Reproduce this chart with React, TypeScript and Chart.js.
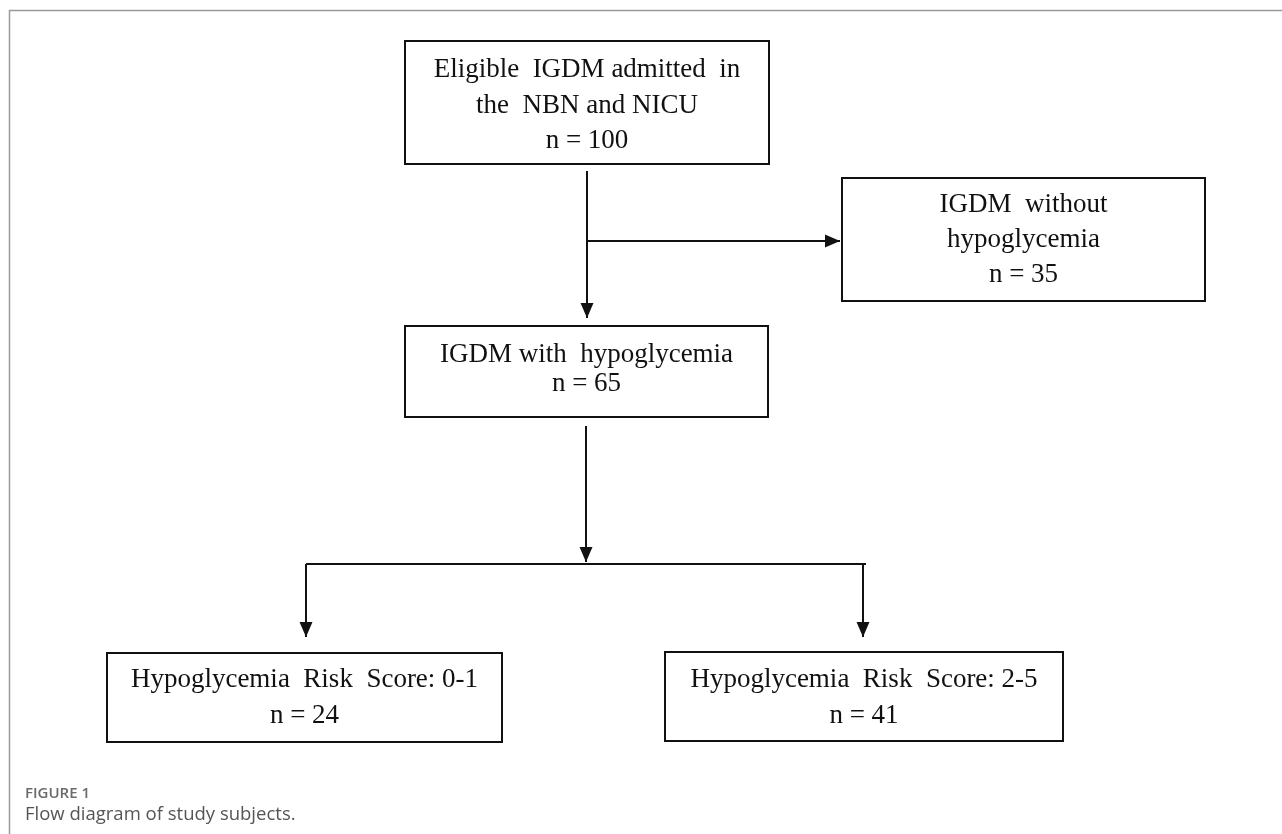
import React, { useEffect, useRef } from "react";
import { Chart, registerables } from "chart.js";

Chart.register(...registerables);

// ---- values ----
const nodeLabels: string[][] = [
  ["Eligible  IGDM admitted  in", "the  NBN and NICU"],
  ["IGDM  without", "hypoglycemia"],
  ["IGDM with  hypoglycemia"],
  ["Hypoglycemia  Risk  Score: 0-1"],
  ["Hypoglycemia  Risk  Score: 2-5"],
];
const nodeCounts: number[] = [100, 35, 65, 24, 41];
const captionTitle = "FIGURE 1";
const captionText = "Flow diagram of study subjects.";

// ---- layout (chart units) ----
// box extents: [xMin, xMax, yMin, yMax]
const nodeBoxes: number[][] = [
  [405, 769, 41, 164],
  [842, 1205, 178, 301],
  [405, 768, 326, 417],
  [107, 502, 653, 742],
  [665, 1063, 652, 741],
];
// text baselines for each line of each box
const nodeBaselines: number[][] = [
  [77, 113, 148],
  [212, 247, 282],
  [362, 391],
  [687, 723],
  [687, 723],
];
// connectors: polyline points [x, y]..., and whether end has an arrowhead
const edgePaths: number[][][] = [
  [[587, 171], [587, 318]],
  [[587, 241], [840, 241]],
  [[586, 426], [586, 562]],
  [[306, 564], [866, 564]],
  [[306, 564], [306, 637]],
  [[863, 564], [863, 637]],
];
const edgeArrow: boolean[] = [true, true, true, false, true, true];

const flowPlugin = {
  id: "flowDiagram",
  afterDatasetsDraw(chart: any) {
    const ctx: CanvasRenderingContext2D = chart.ctx;
    const xs = chart.scales.x;
    const ys = chart.scales.y;
    const X = (v: number) => xs.getPixelForValue(v);
    const Y = (v: number) => ys.getPixelForValue(v);
    ctx.save();

    // figure frame (left and top rules)
    ctx.strokeStyle = "#9a9a9a";
    ctx.lineWidth = 1.5;
    ctx.beginPath();
    ctx.moveTo(X(9.5), Y(834));
    ctx.lineTo(X(9.5), Y(10.5));
    ctx.lineTo(X(1282), Y(10.5));
    ctx.stroke();

    // boxes + text
    ctx.strokeStyle = "#111";
    ctx.lineWidth = 2;
    ctx.fillStyle = "#111";
    ctx.font = "27px 'Liberation Serif', 'Times New Roman', serif";
    ctx.textAlign = "center";
    ctx.textBaseline = "alphabetic";
    nodeBoxes.forEach((b, i) => {
      const x0 = X(b[0]);
      const x1 = X(b[1]);
      const y0 = Y(b[2]);
      const y1 = Y(b[3]);
      ctx.strokeRect(x0, y0, x1 - x0, y1 - y0);
      const lines = [...nodeLabels[i], `n = ${nodeCounts[i]}`];
      const cx = (x0 + x1) / 2;
      lines.forEach((t, j) => {
        ctx.fillText(t, cx, Y(nodeBaselines[i][j]));
      });
    });

    // connectors
    edgePaths.forEach((pts, i) => {
      ctx.beginPath();
      pts.forEach((p, k) => {
        if (k === 0) ctx.moveTo(X(p[0]), Y(p[1]));
        else ctx.lineTo(X(p[0]), Y(p[1]));
      });
      ctx.stroke();
      if (edgeArrow[i]) {
        const n = pts.length;
        const ex = X(pts[n - 1][0]);
        const ey = Y(pts[n - 1][1]);
        const sx = X(pts[n - 2][0]);
        const sy = Y(pts[n - 2][1]);
        const ang = Math.atan2(ey - sy, ex - sx);
        const len = 15;
        const half = 6.5;
        const bx = ex - Math.cos(ang) * len;
        const by = ey - Math.sin(ang) * len;
        ctx.beginPath();
        ctx.moveTo(ex, ey);
        ctx.lineTo(bx - Math.sin(ang) * half, by + Math.cos(ang) * half);
        ctx.lineTo(bx + Math.sin(ang) * half, by - Math.cos(ang) * half);
        ctx.closePath();
        ctx.fill();
      }
    });

    // caption
    ctx.textAlign = "left";
    ctx.fillStyle = "#6a6a6a";
    ctx.font = "600 15px 'Open Sans', 'Noto Sans', sans-serif";
    ctx.fillText(captionTitle, X(25), Y(798));
    ctx.fillStyle = "#555";
    ctx.font = "18.5px 'Open Sans', 'Noto Sans', sans-serif";
    ctx.fillText(captionText, X(25), Y(820));

    ctx.restore();
  },
};

export default function App() {
  const ref = useRef<HTMLCanvasElement | null>(null);
  useEffect(() => {
    if (!ref.current) return;
    const centers = nodeBoxes.map((b) => ({ x: (b[0] + b[1]) / 2, y: (b[2] + b[3]) / 2 }));
    const chart = new Chart(ref.current, {
      type: "scatter",
      data: {
        datasets: [
          {
            label: "nodes",
            data: centers,
            pointRadius: 0,
            pointHoverRadius: 0,
          },
        ],
      },
      options: {
        animation: false,
        responsive: false,
        events: [],
        layout: { padding: 0 },
        scales: {
          x: { type: "linear", min: 0, max: 1282, display: false },
          y: { type: "linear", min: 0, max: 834, reverse: true, display: false },
        },
        plugins: {
          legend: { display: false },
          tooltip: { enabled: false },
        },
      },
      plugins: [flowPlugin],
    });
    return () => chart.destroy();
  }, []);
  return (
    <div style={{ position: "absolute", left: 0, top: 0, width: 1282, height: 834, background: "#fff" }}>
      <canvas ref={ref} width={1282} height={834} style={{ display: "block" }} />
    </div>
  );
}
